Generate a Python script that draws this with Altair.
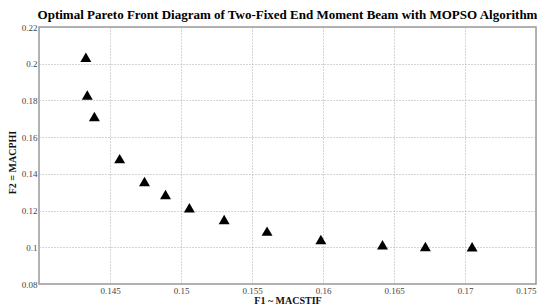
import altair as alt
import pandas as pd

f1 = [0.1433, 0.1434, 0.1439, 0.14568, 0.14743, 0.14891, 0.15059, 0.15304, 0.15606, 0.15985, 0.16419, 0.16721, 0.1705]
f2 = [0.2035, 0.1829, 0.1712, 0.1483, 0.1358, 0.1287, 0.1216, 0.1151, 0.1088, 0.1042, 0.1014, 0.1004, 0.1003]
x_ticks = [0.145, 0.15, 0.155, 0.16, 0.165, 0.17, 0.175]
y_ticks = [0.08, 0.1, 0.12, 0.14, 0.16, 0.18, 0.2, 0.22]

df = pd.DataFrame({"F1": f1, "F2": f2})

font = "Liberation Serif"

chart = alt.Chart(df).mark_point(
    shape="triangle-up", filled=True, color="black", opacity=1, size=120
).encode(
    x=alt.X("F1:Q", scale=alt.Scale(domain=[0.14, 0.175], nice=False, zero=False),
            axis=alt.Axis(values=x_ticks, format="~g", title="F1 ~ MACSTIF",
                          titleFontWeight="bold", titleFont=font, titleFontSize=10,
                          titlePadding=0, labelPadding=2, labelFlush=True)),
    y=alt.Y("F2:Q", scale=alt.Scale(domain=[0.08, 0.22], nice=False, zero=False),
            axis=alt.Axis(values=y_ticks, format="~g", title="F2 = MACPHI",
                          titleFontWeight="bold", titleFont=font, titleFontSize=10,
                          titlePadding=4, labelPadding=2, titleY=135)),
).properties(
    width=497, height=257,
    autosize=alt.AutoSizeParams(type="none"),
    padding={"left": 31, "top": 19, "right": 1, "bottom": 22},
    title=alt.TitleParams(
        "Optimal Pareto Front Diagram of Two-Fixed End Moment Beam with MOPSO Algorithm",
        font=font, fontSize=13, fontWeight="bold", color="black", offset=1,
    ),
).configure_axis(
    labelFont=font, labelFontSize=9, labelColor="#444",
    ticks=False, domain=False,
    grid=True, gridColor="#aaaaaa", gridDash=[1, 2], gridWidth=1,
    titleColor="#111",
).configure_view(
    stroke="#999", strokeWidth=1.5
)

chart.save("out.html", embed_options={"renderer": "svg", "actions": False})
